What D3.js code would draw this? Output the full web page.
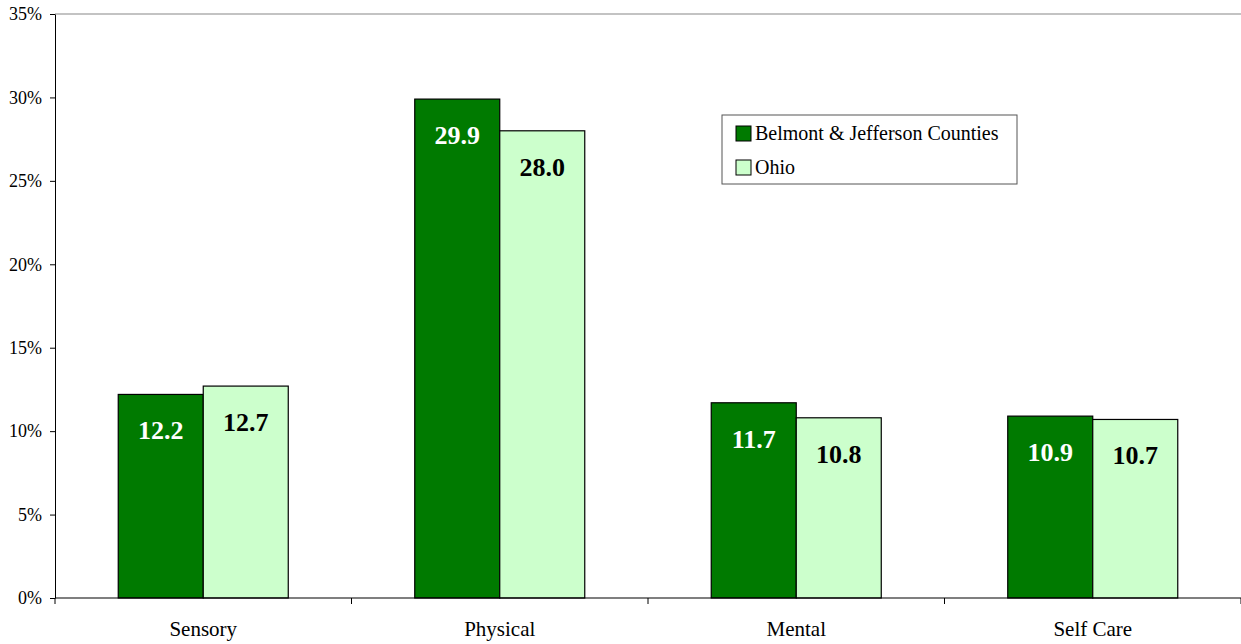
<!DOCTYPE html>
<html><head><meta charset="utf-8">
<script src="https://cdn.jsdelivr.net/npm/d3@7"></script>
<style>body{margin:0;background:#fff}svg{display:block}svg text{font-family:"Liberation Serif","Times New Roman",Times,serif !important}</style>
</head><body>
<svg id="c" width="1241" height="644"></svg>
<script>
const categories = ["Sensory","Physical","Mental","Self Care"];
const seriesNames = ["Belmont & Jefferson Counties","Ohio"];
const belmont = [12.2,29.9,11.7,10.9];
const ohio = [12.7,28.0,10.8,10.7];
const yTicks = [0,5,10,15,20,25,30,35];
const colors = ["#007A00","#CCFFCC"];
const labelColors = ["#fff","#000"];

const svg = d3.select("#c");
const L=55, R=1241, T=14, B=598;
const x = d3.scaleBand().domain(categories).range([L,R]).paddingInner(0).paddingOuter(0);
const x1 = d3.scaleBand().domain([0,1]).range([0,x.bandwidth()]).paddingOuter(0.744).paddingInner(0);
const y = d3.scaleLinear().domain([0,35]).range([B,T]);

// top border
svg.append("line").attr("x1",L).attr("x2",R).attr("y1",T).attr("y2",T).attr("stroke","#888").attr("stroke-width",1.2);

const data = [belmont, ohio];
categories.forEach((c,i)=>{
  data.forEach((s,j)=>{
    const x0 = x(c)+x1(j), w = x1.bandwidth();
    svg.append("rect").attr("x",x0).attr("y",y(s[i])).attr("width",w).attr("height",B-y(s[i]))
      .attr("fill",colors[j]).attr("stroke","#000").attr("stroke-width",1.2);
    svg.append("text").attr("x",x0+w/2).attr("y",y(s[i])+45).attr("text-anchor","middle")
      .attr("font-size",26).attr("font-weight","bold").attr("fill",labelColors[j]).text(s[i].toFixed(1));
  });
});

// y axis
const ya = svg.append("g").attr("transform",`translate(${L},0)`)
  .call(d3.axisLeft(y).tickValues(yTicks).tickFormat(d=>d+"%").tickSize(5).tickPadding(8).tickSizeOuter(0));
ya.attr("font-family",null);
ya.select(".domain").attr("stroke","#000");
ya.selectAll("text").attr("font-size",18).attr("fill","#000");
ya.selectAll("line").attr("stroke","#000");

// x axis
const xa = svg.append("g").attr("transform",`translate(0,${B})`);
xa.append("line").attr("x1",L).attr("x2",R).attr("stroke","#000").attr("stroke-width",1.2);
xa.selectAll("line.t").data(categories.map(c=>x(c)).concat([R])).enter().append("line")
  .attr("class","t").attr("x1",d=>d).attr("x2",d=>d).attr("y1",0).attr("y2",6).attr("stroke","#000");
xa.selectAll("text").data(categories).enter().append("text")
  .attr("x",d=>x(d)+x.bandwidth()/2).attr("y",38).attr("text-anchor","middle")
  .attr("font-size",21).attr("fill","#000").text(d=>d);

// legend
const lg = svg.append("g").attr("transform","translate(722,115)");
lg.append("rect").attr("width",295).attr("height",69).attr("fill","#fff").attr("stroke","#555").attr("stroke-width",1);
seriesNames.forEach((n,j)=>{
  lg.append("rect").attr("x",14).attr("y",11+j*34).attr("width",15).attr("height",15)
    .attr("fill",colors[j]).attr("stroke","#000").attr("stroke-width",1);
  lg.append("text").attr("x",33).attr("y",25+j*34).attr("font-size",20).attr("fill","#000").text(n);
});
</script>
</body></html>
